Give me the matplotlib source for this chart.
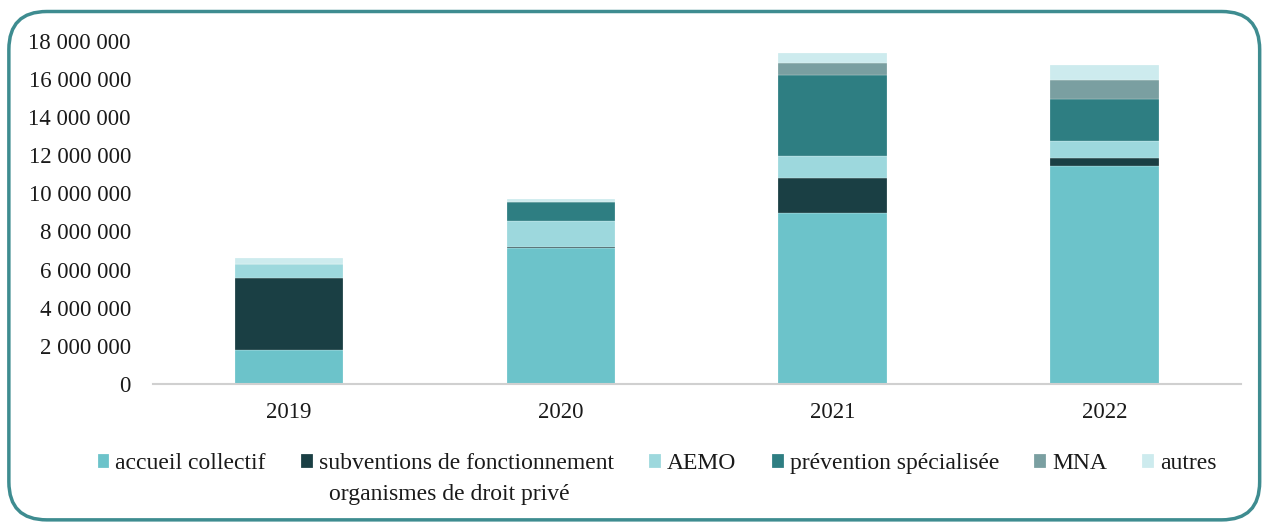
import numpy as np
import matplotlib.pyplot as plt
from matplotlib.patches import FancyBboxPatch
from matplotlib.ticker import FuncFormatter

plt.rcParams['font.family'] = ['Liberation Serif', 'DejaVu Serif']

years = ['2019', '2020', '2021', '2022']
accueil = [1.78e6, 7.12e6, 8.95e6, 11.44e6]
subventions = [3.80e6, 0.06e6, 1.84e6, 0.40e6]
aemo = [0.70e6, 1.37e6, 1.19e6, 0.91e6]
prevention = [0.0, 1.01e6, 4.23e6, 2.19e6]
mna = [0.0, 0.0, 0.60e6, 1.01e6]
autres = [0.31e6, 0.13e6, 0.54e6, 0.79e6]

series = [accueil, subventions, aemo, prevention, mna, autres]
labels = ['accueil collectif', 'subventions de fonctionnement', 'AEMO',
          'prévention spécialisée', 'MNA', 'autres']
colors = ['#6CC3CA', '#1A3F44', '#9DD8DD', '#2E7E82', '#7A9FA1', '#CDEBEE']

fig = plt.figure(figsize=(12.66, 5.23), dpi=100)
ax = fig.add_axes([0.121, 0.266, 0.859, 0.656])

x = np.arange(len(years))
bottom = np.zeros(len(years))
handles = []
for vals, lab, col in zip(series, labels, colors):
    b = ax.bar(x, vals, 0.4, bottom=bottom, color=col, label=lab,
               edgecolor='white', linewidth=0.15)
    handles.append(b)
    bottom += np.array(vals)

ax.set_xlim(-0.5, 3.5)
ax.set_ylim(0, 18e6)
ax.set_yticks(np.arange(0, 18.1e6, 2e6))
ax.yaxis.set_major_formatter(FuncFormatter(lambda v, p: f'{int(v):,}'.replace(',', ' ')))
ax.set_xticks(x)
ax.set_xticklabels(years)
ax.tick_params(axis='both', labelsize=16.5, length=0, colors='#1a1a1a')
ax.tick_params(axis='x', pad=13)
ax.tick_params(axis='y', pad=16)
for s in ['top', 'right', 'left']:
    ax.spines[s].set_visible(False)
ax.spines['bottom'].set_color('#d0d0d0')
ax.spines['bottom'].set_linewidth(1.5)

leg = fig.legend(handles=handles, labels=labels, loc='center', ncol=6,
                 bbox_to_anchor=(0.519, 0.113), frameon=False, fontsize=17,
                 handlelength=0.5, handleheight=0.5, handletextpad=0.25,
                 columnspacing=1.5)
for t in leg.get_texts():
    t.set_color('#1a1a1a')
fig.text(0.26, 0.055, 'organismes de droit privé', fontsize=17,
         ha='left', va='center', color='#1a1a1a')

border = FancyBboxPatch((0.007, 0.006), 0.988, 0.972, transform=fig.transFigure,
                        boxstyle='round,pad=0,rounding_size=0.03',
                        facecolor='none', edgecolor='#3E8C90', linewidth=2.5,
                        mutation_aspect=1266 / 523)
fig.patches.append(border)

fig.savefig('out.png', dpi=100)
